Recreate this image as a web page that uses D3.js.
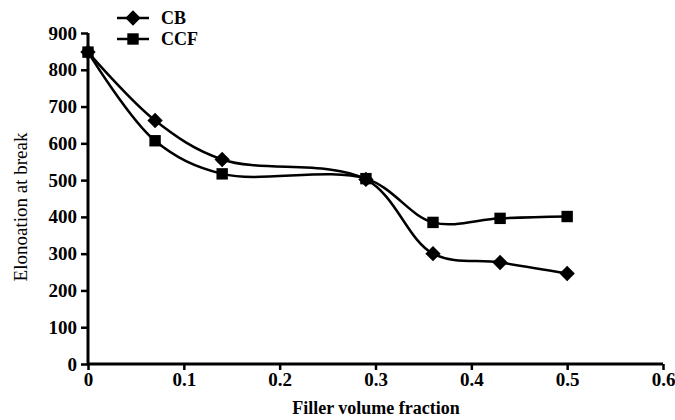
<!DOCTYPE html>
<html>
<head>
<meta charset="utf-8">
<script src="https://cdn.jsdelivr.net/npm/d3@7"></script>
<style>
  body { margin: 0; background: #fff; }
</style>
</head>
<body>
<div id="chart"></div>
<script>
// data
var fraction = [0, 0.07, 0.14, 0.29, 0.36, 0.43, 0.5];
var cbValues = [848, 662, 556, 502, 300, 276, 246];
var ccfValues = [848, 607, 517, 504, 385, 396, 401];
var xTicks = [0, 0.1, 0.2, 0.3, 0.4, 0.5, 0.6];
var yTicks = [0, 100, 200, 300, 400, 500, 600, 700, 800, 900];

var width = 675, height = 420;
var x0 = 88, x1 = 663, yBottom = 364, yTop = 33;
var serif = "'Liberation Serif', 'Times New Roman', serif";

var svg = d3.select("#chart").append("svg")
    .attr("width", width)
    .attr("height", height)
    .style("font-family", serif);

var x = d3.scaleLinear().domain([0, 0.6]).range([x0, x1]);
var y = d3.scaleLinear().domain([0, 900]).range([yBottom, yTop]);

// axes
var xAxis = svg.append("g")
    .attr("transform", "translate(0," + yBottom + ")")
    .call(d3.axisBottom(x).tickValues(xTicks).tickSize(6).tickPadding(3)
      .tickFormat(function(d){ return d === 0 ? "0" : d3.format(".1f")(d); }));
var yAxis = svg.append("g")
    .attr("transform", "translate(" + x0 + ",0)")
    .call(d3.axisLeft(y).tickValues(yTicks).tickSize(7).tickPadding(4));

[xAxis, yAxis].forEach(function(a){
  a.attr("font-family", serif);
  a.select(".domain").attr("stroke", "#000").attr("stroke-width", 3);
  a.selectAll(".tick line").attr("stroke", "#000").attr("stroke-width", 2.5);
  a.selectAll(".tick text")
    .attr("fill", "#000")
    .style("font-family", serif)
    .style("font-size", "19px")
    .style("font-weight", "bold");
});
// remove the outer tick ends of the domain path
xAxis.select(".domain").attr("d", "M" + x0 + ",0H" + x1);
yAxis.select(".domain").attr("d", "M0," + yBottom + "V" + yTop);

// axis titles
svg.append("text")
    .attr("x", 376).attr("y", 414)
    .attr("text-anchor", "middle")
    .style("font-size", "18px")
    .style("font-weight", "bold")
    .text("Filler volume fraction");

svg.append("text")
    .attr("transform", "translate(27,207) rotate(-90)")
    .attr("text-anchor", "middle")
    .style("font-size", "19px")
    .text("Elonoation at break");

// lines
var line = d3.line()
    .x(function(d){ return x(d[0]); })
    .y(function(d){ return y(d[1]); })
    .curve(d3.curveCatmullRom.alpha(0.5));

var series = [
  { name: "CB", values: cbValues, symbol: d3.symbolDiamond2, size: 150 },
  { name: "CCF", values: ccfValues, symbol: d3.symbolSquare, size: 130 }
];

series.forEach(function(s){
  var pts = fraction.map(function(f, i){ return [f, s.values[i]]; });
  svg.append("path")
      .datum(pts)
      .attr("d", line)
      .attr("fill", "none")
      .attr("stroke", "#000")
      .attr("stroke-width", 2.5);
  svg.selectAll(null)
      .data(pts)
      .enter().append("path")
      .attr("transform", function(d){ return "translate(" + x(d[0]) + "," + y(d[1]) + ")"; })
      .attr("d", d3.symbol().type(s.symbol).size(s.size))
      .attr("fill", "#000");
});

// legend
var legend = svg.append("g").attr("transform", "translate(117,18)");
series.forEach(function(s, i){
  var g = legend.append("g").attr("transform", "translate(0," + (i * 21) + ")");
  g.append("line").attr("x1", 0).attr("x2", 32).attr("y1", 0).attr("y2", 0)
    .attr("stroke", "#000").attr("stroke-width", 2.5);
  g.append("path").attr("transform", "translate(16,0)")
    .attr("d", d3.symbol().type(s.symbol).size(s.size))
    .attr("fill", "#000");
  g.append("text").attr("x", 44).attr("y", 6)
    .style("font-size", "18px").style("font-weight", "bold")
    .text(s.name);
});
</script>
</body>
</html>
